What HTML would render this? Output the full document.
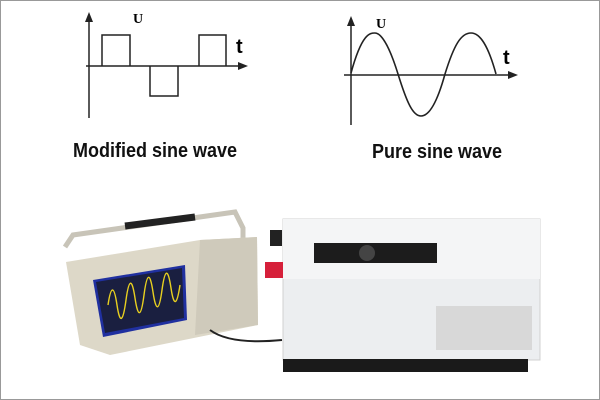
<!DOCTYPE html>
<html><head><style>
body{margin:0;background:#fff}
#w{position:relative;width:600px;height:400px;overflow:hidden;background:#fff;font-family:"Liberation Sans",sans-serif}
.lb{position:absolute;font-weight:bold;font-size:20px;color:#111;transform:scaleX(0.9);transform-origin:left}
</style></head><body><div id="w">
<svg width="600" height="400" style="position:absolute;left:0;top:0">
<rect x="0.5" y="0.5" width="599" height="399" fill="none" stroke="#999"/>
<g stroke="#222" stroke-width="1.5" fill="none">
<path d="M89 118V22"/>
<path d="M86 66H238"/>
<path d="M102 66V35H130V66M150 66V96H178V66M199 66V35H226V66"/>
<path d="M351 125V26"/>
<path d="M344 75H508"/>
<path d="M351 73 C362 33,370 33,375 33 C381 33,389 45,398 74 C407 103,413 116,421 116 C429 116,437 103,445 74 C454 45,461 33,471 33 C480 33,488 45,496 74" stroke-width="1.6"/>
</g>
<path d="M85 22L89 12L93 22Z M238 62L248 66L238 70Z M347 26L351 16L355 26Z M508 71L518 75L508 79Z" fill="#222"/>
<text x="133" y="23" font-family="Liberation Serif" font-weight="bold" font-size="14">U</text>
<text x="236" y="53" font-weight="bold" font-size="20" font-family="Liberation Sans">t</text>
<text x="376" y="28" font-family="Liberation Serif" font-weight="bold" font-size="14">U</text>
<text x="503" y="64" font-weight="bold" font-size="20" font-family="Liberation Sans">t</text>
<!-- inverter -->
<rect x="283" y="219" width="257" height="141" fill="#eceef0" stroke="#d0d0d0"/>
<rect x="283" y="219" width="257" height="60" fill="#f4f5f6"/>
<rect x="283" y="359" width="245" height="13" fill="#1a1a1a"/>
<rect x="314" y="243" width="123" height="20" fill="#1c1c1c"/>
<circle cx="367" cy="253" r="8" fill="#444"/>
<rect x="270" y="230" width="12" height="16" fill="#222"/>
<rect x="265" y="262" width="18" height="16" fill="#d6203a"/>
<rect x="436" y="306" width="96" height="44" fill="#d8d8d8"/>
<!-- scope -->
<path d="M65 247 L73 235 L235 212 L243 228 L243 240" stroke="#c8c4b8" stroke-width="5" fill="none"/>
<path d="M125 226 L195 217" stroke="#222" stroke-width="7"/>
<path d="M66 262 L200 240 L257 237 L258 325 L110 355 L80 345Z" fill="#ddd8c8"/>
<path d="M200 240 L257 237 L258 325 L195 335Z" fill="#cfcabb"/>
<path d="M93 280 L185 265 L187 320 L103 337Z" fill="#2030a0"/>
<path d="M96 282 L182 268 L184 318 L105 333Z" fill="#1a1f40"/>
<path d="M108 305 C111 285,114 285,117 305 S123 322,126 300 S132 278,135 298 S141 318,144 295 S150 272,153 292 S159 312,162 290 S168 268,171 288 S177 305,180 285" stroke="#e8d020" stroke-width="1.4" fill="none"/>
<path d="M210 330 Q230 345 282 340" stroke="#222" stroke-width="2" fill="none"/>
</svg>
<div class="lb" style="left:73px;top:140px">Modified sine wave</div>
<div class="lb" style="left:372px;top:141px">Pure sine wave</div>
</div></body></html>
